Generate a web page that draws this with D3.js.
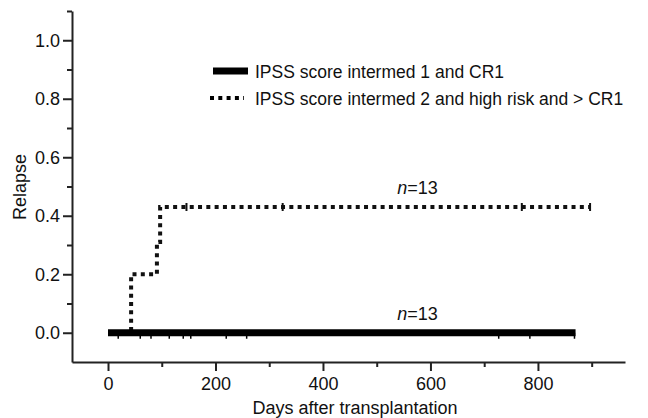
<!DOCTYPE html>
<html>
<head>
<meta charset="utf-8">
<script src="https://cdn.jsdelivr.net/npm/d3@7"></script>
<style>
  body { margin: 0; background: #fff; }
  text { font-family: "Liberation Sans", Arial, sans-serif; fill: #111; }
  .axis path, .axis line { stroke: #222; stroke-width: 2; }
</style>
</head>
<body>
<div id="chart"></div>
<script>
// data
var solidSteps = [[0, 0], [870, 0]];
var dottedSteps = [[0, 0], [43, 0.2], [91, 0.31], [97, 0.43], [897, 0.43]];
var solidCensors = [19, 60, 80, 114, 140, 154, 220, 258, 727, 785, 868];
var dottedCensors = [146, 325, 770, 897];
var yMajor = [0, 0.2, 0.4, 0.6, 0.8, 1.0];
var yMinor = [0.1, 0.3, 0.5, 0.7, 0.9, 1.1];
var xMajor = [0, 200, 400, 600, 800];
var xMinor = [100, 300, 500, 700, 900];
var legendLabels = ["IPSS score intermed 1 and CR1", "IPSS score intermed 2 and high risk and > CR1"];
var nText = "=13";

var W = 648, H = 418;

var svg = d3.select("#chart").append("svg")
    .attr("width", W)
    .attr("height", H);

var x = d3.scaleLinear().domain([-67, 962]).range([72, 625]);
var y = d3.scaleLinear().domain([-0.1, 1.1]).range([362, 11]);

// minor ticks first, then majors with labels
svg.append("g")
    .attr("class", "axis")
    .attr("transform", "translate(" + x.range()[0] + ",0)")
    .call(d3.axisLeft(y).tickValues(yMinor).tickSize(5).tickFormat(""))
    .call(function(g) { g.select(".domain").remove(); });

var yAxis = svg.append("g")
    .attr("class", "axis")
    .attr("transform", "translate(" + x.range()[0] + ",0)")
    .call(d3.axisLeft(y).tickValues(yMajor).tickSize(9).tickSizeOuter(0).tickPadding(3).tickFormat(d3.format(".1f")));
yAxis.selectAll("text").style("font-size", "18px");

svg.append("g")
    .attr("class", "axis")
    .attr("transform", "translate(0," + y.range()[0] + ")")
    .call(d3.axisBottom(x).tickValues(xMinor).tickSize(5).tickFormat(""))
    .call(function(g) { g.select(".domain").remove(); });

var xAxis = svg.append("g")
    .attr("class", "axis")
    .attr("transform", "translate(0," + y.range()[0] + ")")
    .call(d3.axisBottom(x).tickValues(xMajor).tickSize(9).tickSizeOuter(0).tickPadding(6));
xAxis.selectAll("text").style("font-size", "18px");

// axis titles
svg.append("text")
    .attr("x", 355)
    .attr("y", 414)
    .attr("text-anchor", "middle")
    .style("font-size", "18px")
    .text("Days after transplantation");

svg.append("text")
    .attr("transform", "translate(26," + 187 + ") rotate(-90)")
    .attr("text-anchor", "middle")
    .style("font-size", "18px")
    .text("Relapse");

var line = d3.line()
    .curve(d3.curveStepAfter)
    .x(function(d) { return x(d[0]); })
    .y(function(d) { return y(d[1]); });

// dotted group
svg.append("path")
    .datum(dottedSteps)
    .attr("d", line)
    .attr("fill", "none")
    .attr("stroke", "#111")
    .attr("stroke-width", 4)
    .attr("stroke-dasharray", "4,4.3");

svg.selectAll(".dcens")
    .data(dottedCensors)
    .enter().append("line")
    .attr("x1", function(d) { return x(d); })
    .attr("x2", function(d) { return x(d); })
    .attr("y1", y(0.43) - 4)
    .attr("y2", y(0.43) + 4)
    .attr("stroke", "#111")
    .attr("stroke-width", 2);

// solid group
svg.append("path")
    .datum(solidSteps)
    .attr("d", line)
    .attr("fill", "none")
    .attr("stroke", "#000")
    .attr("stroke-width", 7);

svg.selectAll(".scens")
    .data(solidCensors)
    .enter().append("line")
    .attr("x1", function(d) { return x(d); })
    .attr("x2", function(d) { return x(d); })
    .attr("y1", y(0))
    .attr("y2", y(0) + 6)
    .attr("stroke", "#000")
    .attr("stroke-width", 1.5);

// n labels
var nLabels = [[576, 0.43], [576, 0]];
nLabels.forEach(function(p) {
    var t = svg.append("text")
        .attr("x", x(p[0]))
        .attr("y", y(p[1]) - 13)
        .attr("text-anchor", "middle")
        .style("font-size", "18px");
    t.append("tspan").style("font-style", "italic").text("n");
    t.append("tspan").text(nText);
});

// legend
var legend = svg.append("g");
legendLabels.forEach(function(label, i) {
    var ly = 71 + i * 27;
    legend.append("line")
        .attr("x1", i === 0 ? 213 : 210).attr("x2", i === 0 ? 248 : 244)
        .attr("y1", ly).attr("y2", ly)
        .attr("stroke", "#000")
        .attr("stroke-width", i === 0 ? 7 : 4)
        .attr("stroke-dasharray", i === 0 ? null : "4,4.3");
    legend.append("text")
        .attr("x", 255)
        .attr("y", ly + 6.5)
        .style("font-size", "17.5px")
        .text(label);
});
</script>
</body>
</html>
